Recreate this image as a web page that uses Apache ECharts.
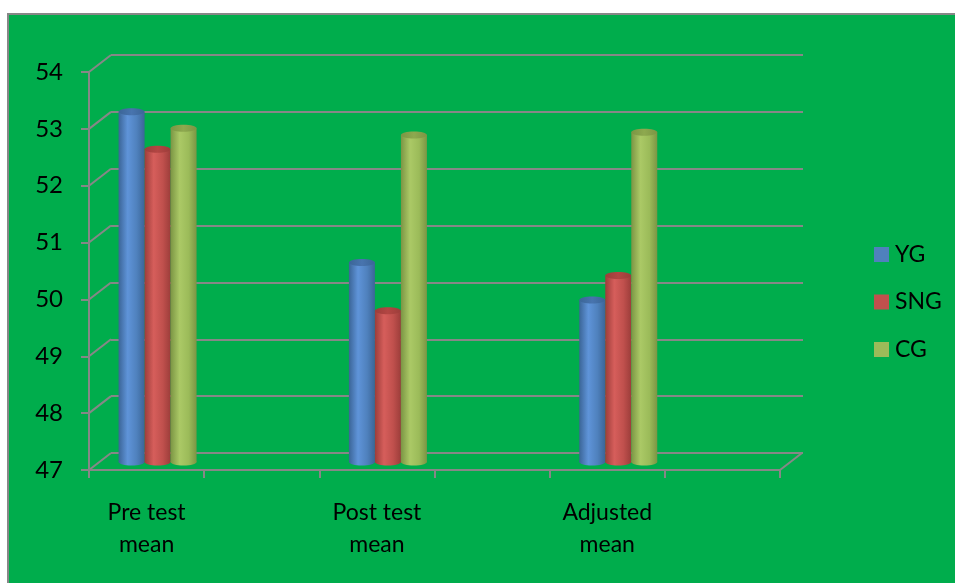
<!DOCTYPE html>
<html>
<head>
<meta charset="utf-8">
<script src="https://cdn.jsdelivr.net/npm/echarts@6/dist/echarts.min.js"></script>
<style>
  html, body { margin: 0; padding: 0; background: #ffffff; }
  #chart { width: 955px; height: 583px; }
</style>
</head>
<body>
<div id="chart"></div>
<script>
// Group means per test phase
const categories = ['Pre test\nmean', 'Post test\nmean', 'Adjusted\nmean'];
const seriesNames = ['YG', 'SNG', 'CG'];
const ygValues  = [53.16, 50.51, 49.85];
const sngValues = [52.50, 49.66, 50.28];
const cgValues  = [52.87, 52.75, 52.80];
const yTicks = [47, 48, 49, 50, 51, 52, 53, 54];

const Y_MIN = 47, Y_MAX = 54;
const X_MIN = 0, X_MAX = 6;          // two axis units per category
const DEPTH = [22, -17];              // offset of the back wall
const BAR_W = 26;
const FONT = 'Lato, "Open Sans", sans-serif';
const GRID_COLOR = '#878787';
const BG = '#00ad4c';

const palette = [
  { base: '#4f81bd', light: '#5f94d9', dark: '#3b6597', top: '#4874ae' },
  { base: '#c0504d', light: '#d65e5b', dark: '#9c3d3a', top: '#b34643' },
  { base: '#9bbb59', light: '#abc966', dark: '#7b9544', top: '#8ea94f' }
];
const valueSets = [ygValues, sngValues, cgValues];

// position of a category on the 0..6 axis
const catPos = i => 0.5 + 2 * i;

function bodyGradient(c) {
  return new echarts.graphic.LinearGradient(0, 0, 1, 0, [
    { offset: 0, color: c.dark },
    { offset: 0.35, color: c.light },
    { offset: 0.7, color: c.base },
    { offset: 1, color: c.dark }
  ]);
}

function cylinderSeries(idx) {
  const c = palette[idx];
  const shift = (idx - 1) * BAR_W;
  return {
    type: 'custom',
    name: seriesNames[idx],
    xAxisIndex: 2,
    yAxisIndex: 2,
    itemStyle: { color: c.base },
    data: valueSets[idx].map((v, i) => [catPos(i), v]),
    z: 5,
    renderItem: function (params, api) {
      const top = api.coord([api.value(0), api.value(1)]);
      const base = api.coord([api.value(0), Y_MIN]);
      const cx = top[0] + shift;
      const rx = BAR_W / 2, ry = 3.5;
      return {
        type: 'group',
        children: [
          {
            type: 'ellipse',
            shape: { cx: cx, cy: base[1], rx: rx, ry: ry },
            style: { fill: bodyGradient(c) }
          },
          {
            type: 'rect',
            shape: { x: cx - rx, y: top[1], width: BAR_W, height: base[1] - top[1] },
            style: { fill: bodyGradient(c) }
          },
          {
            type: 'ellipse',
            shape: { cx: cx, cy: top[1], rx: rx, ry: ry },
            style: {
              fill: new echarts.graphic.LinearGradient(0, 0, 1, 0, [
                { offset: 0, color: c.dark },
                { offset: 0.5, color: c.top },
                { offset: 1, color: c.dark }
              ])
            }
          }
        ]
      };
    }
  };
}

// connectors from the front axis to the back wall
const connectorData = yTicks.map(v => [X_MIN, v]).concat([[X_MAX, Y_MIN]]);

const option = {
  backgroundColor: '#ffffff',
  animation: false,
  graphic: {
    elements: [{
      type: 'rect',
      z: -100,
      silent: true,
      shape: { x: 8, y: 14, width: 980, height: 620 },
      style: { fill: BG, stroke: GRID_COLOR, lineWidth: 2 }
    }]
  },
  grid: [
    { left: 89, top: 72, width: 691, height: 398 },   // front plane
    { left: 111, top: 55, width: 692, height: 398 },  // back wall
    { left: 100, top: 64, width: 691, height: 398 }   // bar plane
  ],
  xAxis: [
    {
      gridIndex: 0, type: 'value', min: X_MIN, max: X_MAX, interval: 1,
      axisLine: { show: true, lineStyle: { color: GRID_COLOR, width: 2 } },
      axisTick: { show: true, length: 8, lineStyle: { color: GRID_COLOR, width: 2 } },
      splitLine: { show: false },
      axisLabel: {
        customValues: [catPos(0), catPos(1), catPos(2)],
        formatter: v => categories[Math.round((v - 0.5) / 2)],
        margin: 27,
        color: '#000000',
        fontFamily: FONT,
        fontSize: 23,
        lineHeight: 32,
        align: 'center'
      }
    },
    { gridIndex: 1, type: 'value', min: X_MIN, max: X_MAX, show: false },
    { gridIndex: 2, type: 'value', min: X_MIN, max: X_MAX, show: false }
  ],
  yAxis: [
    {
      gridIndex: 0, type: 'value', min: Y_MIN, max: Y_MAX, interval: 1,
      axisLine: { show: true, lineStyle: { color: GRID_COLOR, width: 2 } },
      axisTick: { show: true, length: 8, lineStyle: { color: GRID_COLOR, width: 2 } },
      splitLine: { show: false },
      axisLabel: { margin: 26, color: '#000000', fontFamily: FONT, fontSize: 24 }
    },
    {
      gridIndex: 1, type: 'value', min: Y_MIN, max: Y_MAX, interval: 1,
      axisLine: { show: false }, axisTick: { show: false }, axisLabel: { show: false },
      splitLine: { show: true, lineStyle: { color: GRID_COLOR, width: 2 } }
    },
    { gridIndex: 2, type: 'value', min: Y_MIN, max: Y_MAX, show: false }
  ],
  legend: {
    data: seriesNames,
    orient: 'vertical',
    left: 869,
    top: 238,
    padding: 5,
    itemWidth: 15,
    itemHeight: 15,
    itemGap: 24.5,
    icon: 'rect',
    textStyle: { color: '#000000', fontFamily: FONT, fontSize: 23, padding: [0, 0, 0, 1] }
  },
  series: [
    {
      type: 'custom',
      name: 'depth',
      xAxisIndex: 0,
      yAxisIndex: 0,
      silent: true,
      z: 1,
      data: connectorData,
      renderItem: function (params, api) {
        const p = api.coord([api.value(0), api.value(1)]);
        return {
          type: 'line',
          shape: { x1: p[0], y1: p[1], x2: p[0] + DEPTH[0], y2: p[1] + DEPTH[1] },
          style: { stroke: GRID_COLOR, lineWidth: 2 }
        };
      }
    },
    cylinderSeries(0),
    cylinderSeries(1),
    cylinderSeries(2)
  ]
};

const chart = echarts.init(document.getElementById('chart'), null, { renderer: 'canvas' });
chart.setOption(option);
</script>
</body>
</html>
